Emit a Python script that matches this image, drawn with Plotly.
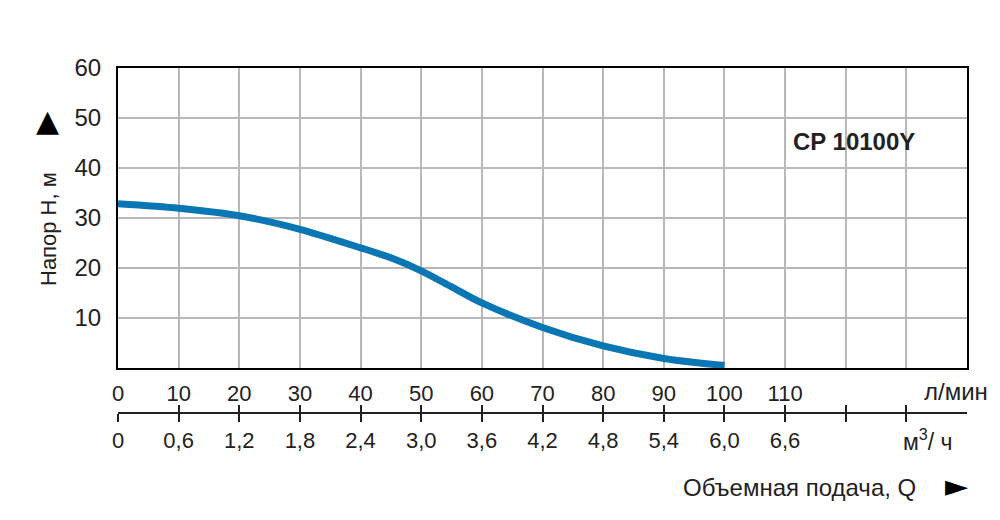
import plotly.graph_objects as go

# ---- data ----
flow_lpm = [0, 10, 20, 30, 40, 45, 50, 55, 60, 70, 80, 90, 100]
head_m = [32.8, 31.9, 30.4, 27.7, 24.0, 22.0, 19.4, 16.2, 13.0, 8.1, 4.4,
          1.9, 0.5]

lpm_ticks = [0, 10, 20, 30, 40, 50, 60, 70, 80, 90, 100, 110, 120, 130, 140]
lpm_labels = ['0', '10', '20', '30', '40', '50', '60', '70', '80', '90',
              '100', '110', ' ', ' ', ' ']
m3h_ticks = [0, 0.6, 1.2, 1.8, 2.4, 3.0, 3.6, 4.2, 4.8, 5.4, 6.0, 6.6, 7.2, 7.8]
m3h_labels = ['0', '0,6', '1,2', '1,8', '2,4', '3,0', '3,6', '4,2', '4,8',
              '5,4', '6,0', '6,6', ' ', ' ']
head_ticks = [10, 20, 30, 40, 50, 60]

W, H = 1000, 520
FONT = 'Liberation Sans, Arial, sans-serif'
TXT = '#222222'
GRID = '#b8b8b8'


def px(x):
    return x / W


def py(y):
    return 1 - y / H


fig = go.Figure()

fig.add_trace(go.Scatter(x=flow_lpm, y=head_m, mode='lines',
                         line=dict(color='#0a76b4', width=7, shape='spline',
                                   smoothing=0.8),
                         hoverinfo='skip', showlegend=False))

# invisible traces so the secondary m3/h axes get drawn
for ax in ['x2', 'x3']:
    fig.add_trace(go.Scatter(x=[0, 8.4], y=[0, 0], xaxis=ax, mode='markers',
                             marker=dict(opacity=0), hoverinfo='skip',
                             showlegend=False))

dom = [px(118), px(967)]

fig.update_layout(
    width=W, height=H,
    margin=dict(l=0, r=0, t=0, b=0, autoexpand=False),
    paper_bgcolor='white', plot_bgcolor='white',
    font=dict(family=FONT, color=TXT),
    xaxis=dict(domain=dom, range=[0, 140], tickvals=lpm_ticks,
               ticktext=lpm_labels, showgrid=True, gridcolor=GRID,
               gridwidth=1.5, zeroline=False, showline=True,
               linecolor='black', linewidth=2, mirror=True, ticks='',
               tickfont=dict(size=22, color=TXT), ticklabelstandoff=5,
               automargin=False),
    yaxis=dict(domain=[py(368), py(67.5)], range=[0, 60], tickvals=head_ticks,
               showgrid=True, gridcolor=GRID, gridwidth=1.5, zeroline=False,
               showline=True, linecolor='black', linewidth=2, mirror=True,
               ticks='', tickfont=dict(size=24, color=TXT),
               ticklabelstandoff=10, automargin=False),
    xaxis2=dict(domain=dom, range=[0, 8.4], overlaying='x', anchor='free',
                position=py(413), side='bottom', tickvals=m3h_ticks,
                ticktext=m3h_labels, showgrid=False, zeroline=False,
                showline=True, linecolor=TXT, linewidth=1.5, ticks='outside',
                ticklen=8, tickwidth=1.5, tickcolor=TXT,
                tickfont=dict(size=22, color=TXT), automargin=False),
    xaxis3=dict(domain=dom, range=[0, 8.4], overlaying='x', anchor='free',
                position=py(413), side='bottom', tickvals=m3h_ticks,
                showticklabels=False, showgrid=False, zeroline=False,
                showline=False, ticks='inside', ticklen=8, tickwidth=1.5,
                tickcolor=TXT, automargin=False),
)

notes = [
    dict(text='<b>CP 10100Y</b>', x=111, y=45.2, xref='x', yref='y',
         xanchor='left', font=dict(size=24, color=TXT)),
    dict(text='Напор Н, м', x=px(48), y=py(229), textangle=-90,
         font=dict(size=22, color=TXT)),
    dict(text='▲', x=px(47), y=py(120),
         font=dict(size=30, color='black', family='DejaVu Sans')),
    dict(text='л/мин', x=px(956), y=py(391), font=dict(size=24, color=TXT)),
    dict(text='м<sup>3</sup>/ ч', x=px(928), y=py(440),
         font=dict(size=23, color=TXT)),
    dict(text='Объемная подача, Q', x=px(799), y=py(487),
         font=dict(size=24, color=TXT)),
    dict(text='►', x=px(956), y=py(485),
         font=dict(size=30, color='black', family='DejaVu Sans')),
]
for n in notes:
    n.setdefault('xref', 'paper')
    n.setdefault('yref', 'paper')
    n.setdefault('xanchor', 'center')
    n.setdefault('yanchor', 'middle')
    fig.add_annotation(showarrow=False, **n)

fig.write_html("out.html", config={'displayModeBar': False},
               post_script="document.body.style.margin='0';"
                           "document.body.style.overflow='hidden';")
